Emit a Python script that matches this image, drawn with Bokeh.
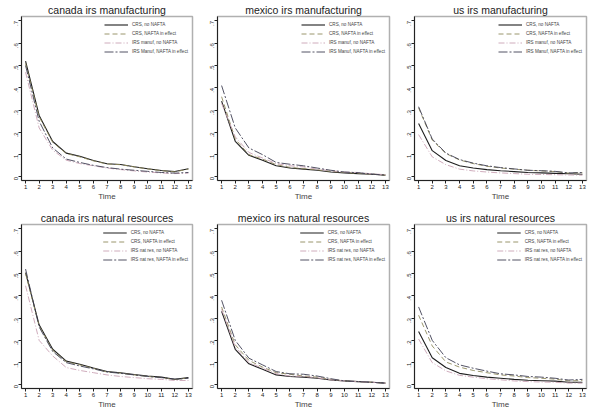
from bokeh.plotting import figure
from bokeh.layouts import gridplot
from bokeh.models import Range1d, FixedTicker, Legend, LegendItem
from bokeh.embed import file_html
from bokeh.resources import INLINE
import math

time = list(range(1, 14))

# canada irs manufacturing
can_man_crs = [0.52, 0.276, 0.159, 0.107, 0.093, 0.074, 0.059, 0.056, 0.046, 0.037, 0.029, 0.024, 0.037]
can_man_crs_n = [0.51, 0.27, 0.155, 0.105, 0.09, 0.072, 0.058, 0.055, 0.045, 0.036, 0.028, 0.023, 0.035]
can_man_irs = [0.47, 0.22, 0.12, 0.075, 0.06, 0.05, 0.04, 0.033, 0.027, 0.022, 0.018, 0.015, 0.017]
can_man_irs_n = [0.50, 0.25, 0.13, 0.08, 0.065, 0.052, 0.042, 0.035, 0.03, 0.025, 0.02, 0.017, 0.02]

# mexico irs manufacturing
mex_man_crs = [0.34, 0.16, 0.097, 0.075, 0.05, 0.04, 0.035, 0.03, 0.022, 0.018, 0.015, 0.012, 0.008]
mex_man_crs_n = [0.36, 0.17, 0.10, 0.08, 0.055, 0.043, 0.037, 0.032, 0.025, 0.02, 0.016, 0.013, 0.008]
mex_man_irs = [0.33, 0.18, 0.11, 0.085, 0.06, 0.05, 0.045, 0.035, 0.028, 0.022, 0.02, 0.014, 0.01]
mex_man_irs_n = [0.41, 0.22, 0.13, 0.10, 0.065, 0.057, 0.05, 0.04, 0.03, 0.022, 0.019, 0.013, 0.008]

# us irs manufacturing
us_man_crs = [0.24, 0.118, 0.074, 0.05, 0.04, 0.033, 0.028, 0.024, 0.02, 0.018, 0.016, 0.014, 0.012]
us_man_crs_n = [0.31, 0.165, 0.105, 0.076, 0.06, 0.048, 0.04, 0.035, 0.03, 0.027, 0.024, 0.017, 0.019]
us_man_irs = [0.19, 0.09, 0.055, 0.035, 0.027, 0.022, 0.018, 0.015, 0.012, 0.011, 0.01, 0.009, 0.008]
us_man_irs_n = [0.315, 0.17, 0.107, 0.078, 0.062, 0.05, 0.042, 0.036, 0.03, 0.028, 0.025, 0.018, 0.02]

# canada irs natural resources
can_nat_crs = [0.504, 0.27, 0.16, 0.107, 0.093, 0.076, 0.06, 0.055, 0.047, 0.04, 0.035, 0.025, 0.033]
can_nat_crs_n = [0.50, 0.265, 0.155, 0.104, 0.09, 0.074, 0.058, 0.053, 0.045, 0.038, 0.033, 0.024, 0.032]
can_nat_irs = [0.445, 0.20, 0.13, 0.078, 0.065, 0.055, 0.045, 0.038, 0.033, 0.028, 0.025, 0.02, 0.02]
can_nat_irs_n = [0.52, 0.26, 0.15, 0.10, 0.085, 0.072, 0.058, 0.052, 0.045, 0.038, 0.033, 0.026, 0.03]

# mexico irs natural resources
mex_nat_crs = [0.33, 0.16, 0.095, 0.07, 0.045, 0.038, 0.035, 0.03, 0.022, 0.018, 0.015, 0.012, 0.008]
mex_nat_crs_n = [0.35, 0.18, 0.11, 0.08, 0.055, 0.048, 0.04, 0.035, 0.025, 0.018, 0.015, 0.012, 0.008]
mex_nat_irs = [0.34, 0.17, 0.10, 0.075, 0.05, 0.04, 0.038, 0.032, 0.023, 0.018, 0.015, 0.012, 0.008]
mex_nat_irs_n = [0.38, 0.20, 0.12, 0.09, 0.06, 0.05, 0.048, 0.04, 0.028, 0.018, 0.015, 0.012, 0.008]

# us irs natural resources
us_nat_crs = [0.24, 0.122, 0.078, 0.052, 0.042, 0.035, 0.03, 0.025, 0.021, 0.019, 0.017, 0.012, 0.012]
us_nat_crs_n = [0.313, 0.175, 0.103, 0.08, 0.065, 0.055, 0.045, 0.04, 0.033, 0.03, 0.026, 0.018, 0.02]
us_nat_irs = [0.206, 0.10, 0.063, 0.043, 0.035, 0.028, 0.023, 0.018, 0.015, 0.013, 0.012, 0.008, 0.008]
us_nat_irs_n = [0.35, 0.20, 0.122, 0.09, 0.075, 0.062, 0.05, 0.045, 0.038, 0.035, 0.03, 0.022, 0.025]

titles = ["canada irs manufacturing", "mexico irs manufacturing", "us irs manufacturing",
          "canada irs natural resources", "mexico irs natural resources", "us irs natural resources"]
man_labels = ["CRS, no NAFTA", "CRS, NAFTA in effect", "IRS manuf, no NAFTA", "IRS Manuf, NAFTA in effect"]
nat_labels = ["CRS, no NAFTA", "CRS, NAFTA in effect", "IRS nat res, no NAFTA", "IRS nat res, NAFTA in effect"]
y_ticks = [0, 0.1, 0.2, 0.3, 0.4, 0.5, 0.6, 0.7]
y_tick_labels = ["0", ".1", ".2", ".3", ".4", ".5", ".6", ".7"]

panels = [
    [can_man_crs, can_man_crs_n, can_man_irs, can_man_irs_n],
    [mex_man_crs, mex_man_crs_n, mex_man_irs, mex_man_irs_n],
    [us_man_crs, us_man_crs_n, us_man_irs, us_man_irs_n],
    [can_nat_crs, can_nat_crs_n, can_nat_irs, can_nat_irs_n],
    [mex_nat_crs, mex_nat_crs_n, mex_nat_irs, mex_nat_irs_n],
    [us_nat_crs, us_nat_crs_n, us_nat_irs, us_nat_irs_n],
]

styles = [
    dict(color="#1e1e1e", dash="solid", width=1.1),
    dict(color="#8f8a5c", dash="5 3", width=0.9),
    dict(color="#c9a3b4", dash="6 2 1 2", width=0.9),
    dict(color="#3e3e52", dash="9 2 2 2", width=0.9),
]

FONT = "Liberation Sans"
widths = [196, 197, 197]
figs = []
for i, (title, series) in enumerate(zip(titles, panels)):
    labels = man_labels if i < 3 else nat_labels
    p = figure(width=widths[i % 3], height=208, output_backend="svg", toolbar_location=None,
               x_range=Range1d(0.7, 13.3), y_range=Range1d(-0.016, 0.72),
               title=title)
    p.title.text_font = FONT
    p.title.text_font_size = "10.5px"
    p.title.text_font_style = "normal"
    p.title.align = "center"
    p.title.text_color = "#222222"
    p.title.standoff = 2
    p.title.offset = 0
    p.min_border_top = 0
    p.min_border_left = 21
    p.min_border_right = 4
    p.min_border_bottom = 28
    p.background_fill_color = "white"
    p.border_fill_color = "white"
    p.outline_line_color = "#b0b0b0"
    p.outline_line_width = 1.5
    p.xgrid.visible = False
    p.ygrid.visible = False

    p.xaxis.ticker = FixedTicker(ticks=time)
    p.xaxis.axis_label = "Time"
    p.xaxis.axis_label_text_font = FONT
    p.xaxis.axis_label_text_font_size = "8px"
    p.xaxis.axis_label_text_font_style = "normal"
    p.xaxis.axis_label_standoff = 0
    p.xaxis.major_label_text_font = FONT
    p.xaxis.major_label_text_font_size = "6px"
    p.xaxis.major_label_standoff = 1

    p.yaxis.ticker = FixedTicker(ticks=y_ticks)
    p.yaxis.major_label_overrides = {t: l for t, l in zip(y_ticks, y_tick_labels)}
    p.yaxis.major_label_orientation = math.pi / 2
    p.yaxis.major_label_text_font = FONT
    p.yaxis.major_label_text_font_size = "6px"
    p.yaxis.major_label_standoff = 2

    for ax in (p.xaxis, p.yaxis):
        ax.minor_tick_line_color = None
        ax.major_tick_out = 3
        ax.major_tick_in = 0
        ax.axis_line_color = "#222222"
        ax.major_tick_line_color = "#222222"
        ax.major_label_text_color = "#222222"

    items = []
    for s, st, lab in zip(series, styles, labels):
        r = p.line(time, s, line_color=st["color"], line_dash=st["dash"], line_width=st["width"])
        items.append(LegendItem(label=lab, renderers=[r]))
    leg = Legend(items=items, location="top_right")
    leg.label_text_font = FONT
    leg.label_text_font_size = "4.6px"
    leg.label_text_color = "#444444"
    leg.glyph_width = 24
    leg.glyph_height = 9
    leg.label_height = 9
    leg.label_standoff = 4
    leg.spacing = 0
    leg.padding = 2
    leg.margin = 4
    leg.border_line_color = None
    leg.background_fill_alpha = 0
    p.add_layout(leg)
    figs.append(p)

grid = gridplot([figs[0:3], figs[3:6]], toolbar_location=None)
open("out.html", "w").write(file_html(grid, INLINE))
